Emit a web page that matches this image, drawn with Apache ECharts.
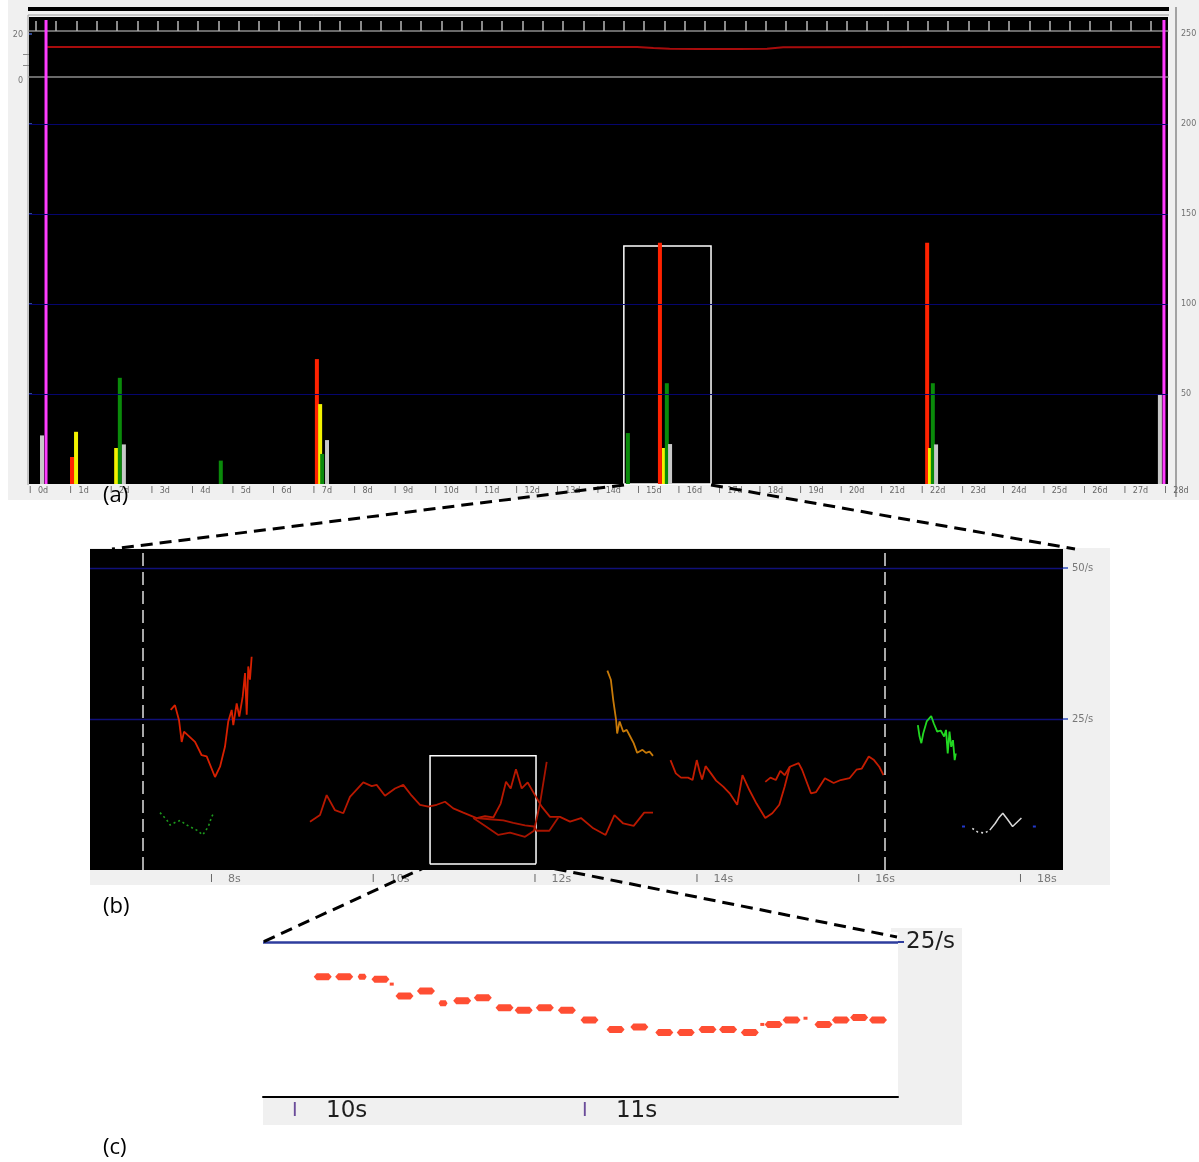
<!DOCTYPE html>
<html>
<head>
<meta charset="utf-8">
<script src="https://cdn.jsdelivr.net/npm/echarts@6/dist/echarts.min.js"></script>
<style>
  html, body { margin: 0; padding: 0; background: #fff; }
  #chart { width: 1199px; height: 1162px; }
</style>
</head>
<body>
<div id="chart"></div>
<script>
// ---------- Panel (a): 28-day overview (x in days) ----------
const aRedBars    = [[1.06, 15], [7.10, 69.4], [15.56, 134], [22.15, 134]];
const aYellowBars = [[1.16, 29], [2.15, 20], [7.18, 44.4], [15.66, 20], [22.22, 20]];
const aGreenBars  = [[2.24, 59], [4.73, 13], [7.23, 16.7], [14.77, 28.3], [15.73, 56], [22.29, 56]];
const aGrayBars   = [[0.32, 27], [2.34, 22], [7.35, 24.4], [15.81, 22.2], [22.37, 22], [27.89, 50]];
const aMarkers    = [0.42, 27.99];
const aGridLevels = [50, 100, 150, 200];
// upper trend trace (0-20 scale)
const aTrend = [[0.45, 13], [5, 13], [10, 13], [15, 13], [15.4, 12.6], [15.8, 12.3], [16.5, 12.2],
                [17.5, 12.2], [18.2, 12.3], [18.6, 12.9], [22, 13], [27.9, 13]];
const aZoomBox = [[14.67, 0], [16.82, 132.2]];

// ---------- Panel (b): seconds view ----------
const bRedLeft = [[7.514,26.5],[7.567,27.3],[7.617,24.8],[7.650,21.2],[7.679,22.9],[7.815,21.2],[7.897,19.0],
  [7.959,18.8],[8.062,15.4],[8.124,17.1],[8.185,20.4],[8.226,24.6],[8.268,26.5],[8.288,24.0],[8.330,27.6],
  [8.362,25.4],[8.404,28.7],[8.433,32.6],[8.454,25.7],[8.473,33.7],[8.494,31.5],[8.515,35.3]];
const bGreenLeft = [[7.382,9.5],[7.465,8.3],[7.506,7.45],[7.588,8.0],[7.630,8.2],[7.712,7.45],[7.836,6.6],
  [7.910,5.8],[7.980,7.2],[8.020,8.8],[8.040,9.3]];
const bRedMain = [[9.236,8.0],[9.360,9.1],[9.442,12.4],[9.545,9.9],[9.648,9.4],[9.730,12.1],[9.895,14.5],
  [9.999,13.9],[10.060,14.1],[10.163,12.3],[10.287,13.5],[10.389,14.1],[10.493,12.3],[10.596,10.8],
  [10.699,10.5],[10.802,10.8],[10.905,11.3],[11.007,10.2],[11.131,9.5],[11.296,8.6],[11.399,8.9],
  [11.502,8.7],[11.593,11.0],[11.659,14.6],[11.717,13.5],[11.782,16.7],[11.853,13.5],[11.927,14.5],
  [12.017,12.4],[12.100,10.5],[12.203,8.8],[12.326,8.8],[12.450,8.0],[12.586,8.6],[12.738,6.9],
  [12.890,5.8],[12.999,9.1],[13.108,7.7],[13.237,7.3],[13.367,9.5],[13.476,9.5]];
const bRedMid = [[11.296,8.6],[11.461,8.4],[11.626,8.2],[11.749,7.8],[11.894,7.4],[12.005,7.2],[12.038,6.5],
  [12.194,6.5],[12.305,8.7]];
const bRedLow = [[11.255,8.6],[11.420,7.1],[11.564,5.8],[11.708,6.2],[11.894,5.5],[12.005,6.5],[12.079,11.0],
  [12.162,17.9]];
const bOrange = [[12.912,33.0],[12.955,31.5],[12.985,28.1],[13.020,24.8],[13.033,22.6],[13.063,24.6],
  [13.085,24.8],[13.108,22.9],[13.151,23.2],[13.194,22.1],[13.237,21.0],[13.281,19.4],[13.346,19.9],
  [13.389,19.4],[13.433,19.6],[13.476,18.9]];
const bRedRight = [[13.692,18.2],[13.758,16.0],[13.822,15.3],[13.910,15.3],[13.965,14.9],[14.017,18.2],
  [14.052,16.3],[14.083,15.0],[14.126,17.2],[14.192,16.0],[14.256,14.8],[14.344,13.8],[14.430,12.6],
  [14.517,10.8],[14.582,15.7],[14.669,13.2],[14.755,11.0],[14.864,8.6],[14.951,9.4],[15.037,10.8],
  [15.103,13.8],[15.167,17.1],[15.276,17.7],[15.319,16.6],[15.428,12.7],[15.492,12.9],[15.601,15.2],
  [15.709,14.4],[15.796,14.9],[15.905,15.2],[15.991,16.6],[16.057,16.8],[16.143,18.8],[16.208,18.2],
  [16.273,17.1],[16.325,15.7]];
const bRedBranch = [[14.864,14.6],[14.928,15.3],[14.994,14.9],[15.050,16.4],[15.103,15.7],[15.167,17.1]];
const bGreenRight = [[16.750,24.0],[16.771,22.1],[16.793,21.0],[16.816,22.6],[16.859,24.6],[16.915,25.5],
  [16.946,24.3],[16.989,22.9],[17.032,23.1],[17.075,22.1],[17.098,23.2],[17.119,19.3],[17.141,22.9],
  [17.162,20.4],[17.184,21.5],[17.205,18.2],[17.219,19.3]];
const bWhiteDotted = [[17.423,6.9],[17.487,6.3],[17.575,6.1],[17.639,6.6]];
const bWhiteSolid  = [[17.639,6.6],[17.705,7.7],[17.748,8.6],[17.800,9.4],[17.857,8.4],[17.921,7.2],[18.030,8.6]];
const bBlueDots    = [[17.314,7.2],[18.190,7.2]];
const bMarkers     = [7.17, 16.34];
const bTicks       = [8, 10, 12, 14, 16, 18];
const bZoomBox     = [[10.72, 1.0], [12.03, 18.9]];

// ---------- Panel (c): detail ----------
const cDashes = [[10.106,19.4],[10.180,19.4],[10.305,19.0],[10.388,16.3],[10.462,17.1],[10.587,15.5],
  [10.658,16.0],[10.733,14.4],[10.799,14.0],[10.872,14.4],[10.948,14.0],[11.026,12.4],[11.116,10.9],
  [11.198,11.3],[11.284,10.4],[11.358,10.4],[11.433,10.9],[11.504,10.9],[11.579,10.4],[11.661,11.7],
  [11.723,12.4],[11.833,11.7],[11.893,12.4],[11.956,12.8],[12.021,12.4]];
const cShort = [[10.242,19.4],[10.521,15.1]];
const cTiny  = [[10.344,18.2],[11.622,11.7],[11.771,12.7]];
const cTicks = [10, 11];

// strip of half-day marks above the overview
const stripTicks = [];
for (let k = 0; k < 56; k++) stripTicks.push(+(0.17 + 0.5 * k).toFixed(2));

const FONT = 'DejaVu Sans';
const chart = echarts.init(document.getElementById('chart'), null, { renderer: 'canvas' });

function barRender(color) {
  return function (params, api) {
    const x = api.value(0), y = api.value(1);
    const base = api.coord([x, 0]);
    const top = api.coord([x, y]);
    return { type: 'rect', shape: { x: base[0] - 2, y: top[1], width: 4, height: base[1] - top[1] },
             style: { fill: color } };
  };
}
function markerRender(params, api) {
  const x = api.value(0);
  const b = api.coord([x, 0]);
  const t = api.coord([x, 1]);
  return { type: 'rect', shape: { x: b[0] - 1.5, y: t[1], width: 3, height: b[1] - t[1] },
           style: { fill: '#ff3cff' } };
}
function bLine(data, color, extra) {
  return Object.assign({
    type: 'line', xAxisIndex: 4, yAxisIndex: 4, data: data, showSymbol: false, silent: true,
    lineStyle: { color: color, width: 1.8 }, z: 3
  }, extra || {});
}
const gridBase = { containLabel: false, outerBoundsMode: 'none', borderWidth: 0 };

const option = {
  animation: false,
  backgroundColor: '#ffffff',
  grid: [
    Object.assign({ left: 29, top: 17, width: 1139, height: 14, show: true, backgroundColor: '#000' }, gridBase),
    Object.assign({ left: 29, top: 31, width: 1139, height: 453, show: true, backgroundColor: '#000' }, gridBase),
    Object.assign({ left: 29, top: 31, width: 1139, height: 46 }, gridBase),
    Object.assign({ left: 29, top: 20, width: 1139, height: 464 }, gridBase),
    Object.assign({ left: 90, top: 549, width: 973, height: 321, show: true, backgroundColor: '#000' }, gridBase),
    Object.assign({ left: 263, top: 932, width: 635, height: 165, show: true, backgroundColor: '#fff' }, gridBase)
  ],
  xAxis: [
    { gridIndex: 0, type: 'value', min: 0, max: 28.09,
      axisLine: { show: true, lineStyle: { color: '#8c8c8c', width: 1.5 } },
      axisTick: { show: true, inside: true, length: 10, customValues: stripTicks,
                  lineStyle: { color: '#b8b8b8', width: 1.5 } },
      axisLabel: { show: false }, splitLine: { show: false } },
    { gridIndex: 1, type: 'value', min: 0, max: 28.09, interval: 1,
      axisLine: { show: false }, axisTick: { show: false }, splitLine: { show: false },
      axisLabel: { show: true, interval: 0, showMaxLabel: false, hideOverlap: false, margin: 3, align: 'left',
        fontFamily: FONT, fontSize: 8, color: '#666',
        formatter: v => '{t|I}{v|' + v + 'd}',
        rich: { t: { width: 9, fontSize: 8, color: '#555', fontFamily: FONT },
                v: { fontSize: 8, color: '#666', fontFamily: FONT } } } },
    { gridIndex: 2, type: 'value', min: 0, max: 28.09,
      axisLine: { show: true, lineStyle: { color: '#8c8c8c', width: 1.5 } },
      axisTick: { show: false }, axisLabel: { show: false }, splitLine: { show: false } },
    { gridIndex: 3, type: 'value', min: 0, max: 28.09, show: false },
    { gridIndex: 4, type: 'value', min: 6.5167, max: 18.544,
      axisLine: { show: false }, axisTick: { show: false }, splitLine: { show: false },
      axisLabel: { show: true, customValues: bTicks, margin: 4, align: 'left', hideOverlap: false,
        formatter: v => '{t|I}{v|' + v + 's}',
        rich: { t: { width: 18, fontSize: 10, color: '#666', fontFamily: FONT },
                v: { fontSize: 11, color: '#777', fontFamily: FONT } } } },
    { gridIndex: 5, type: 'value', min: 9.9, max: 12.09,
      axisLine: { show: true, lineStyle: { color: '#000', width: 2 } },
      axisTick: { show: false }, splitLine: { show: false },
      axisLabel: { show: true, customValues: cTicks, margin: 3, align: 'left', hideOverlap: false,
        formatter: v => '{t|I}{v|' + v + 's}',
        rich: { t: { width: 34, fontSize: 19, color: '#6b4c9a', fontFamily: FONT },
                v: { fontSize: 23, color: '#1e1e1e', fontFamily: FONT } } } }
  ],
  yAxis: [
    { gridIndex: 0, type: 'value', min: 0, max: 1, show: false },
    { gridIndex: 1, type: 'value', min: 0, max: 251.7, interval: 50, position: 'right', offset: 8,
      axisLine: { show: false },
      axisTick: { show: true, length: 3, lineStyle: { color: '#4060c0', width: 1.5 } },
      axisLabel: { show: true, showMinLabel: false, showMaxLabel: false, margin: 5,
                   fontFamily: FONT, fontSize: 8, color: '#707070' },
      splitLine: { show: false } },
    { gridIndex: 2, type: 'value', min: 0, max: 20, position: 'left', offset: 5,
      axisLine: { show: false },
      axisTick: { show: true, length: 6, customValues: [5, 10], lineStyle: { color: '#888', width: 1 } },
      axisLabel: { show: true, customValues: [0, 20], margin: 1, verticalAlign: 'top',
                   fontFamily: FONT, fontSize: 8, color: '#707070' },
      splitLine: { show: false } },
    { gridIndex: 3, type: 'value', min: 0, max: 1, show: false },
    { gridIndex: 4, type: 'value', min: 0, max: 53.15, interval: 25, position: 'right',
      axisLine: { show: false },
      axisTick: { show: true, length: 5, lineStyle: { color: '#3050c0', width: 1.5 } },
      axisLabel: { show: true, showMinLabel: false, showMaxLabel: false, margin: 9,
                   formatter: v => v + '/s', fontFamily: FONT, fontSize: 10, color: '#777' },
      splitLine: { show: true, showMinLine: false, showMaxLine: false,
                   lineStyle: { color: '#10107a', width: 1.3 } } },
    { gridIndex: 5, type: 'value', min: 0, max: 26.6, interval: 25, position: 'right',
      axisLine: { show: false },
      axisTick: { show: true, length: 6, lineStyle: { color: '#2e3d9e', width: 2 } },
      axisLabel: { show: true, showMinLabel: false, showMaxLabel: false, margin: 8,
                   formatter: v => v + '/s', fontFamily: FONT, fontSize: 23, color: '#1e1e1e' },
      splitLine: { show: true, showMinLine: false, showMaxLine: false,
                   lineStyle: { color: '#2e3d9e', width: 2.5 } } }
  ],
  series: [
    // panel (a): level lines and zoom box
    { type: 'line', xAxisIndex: 1, yAxisIndex: 1, data: [], silent: true, z: 2,
      markLine: { silent: true, symbol: ['none', 'none'], label: { show: false },
                  lineStyle: { color: '#05056e', width: 1.2, type: 'solid' },
                  data: aGridLevels.map(v => ({ yAxis: v })) } },
    { type: 'custom', xAxisIndex: 1, yAxisIndex: 1, data: aRedBars, renderItem: barRender('#ff2200'), silent: true, z: 3 },
    { type: 'custom', xAxisIndex: 1, yAxisIndex: 1, data: aYellowBars, renderItem: barRender('#f2f200'), silent: true, z: 3 },
    { type: 'custom', xAxisIndex: 1, yAxisIndex: 1, data: aGreenBars, renderItem: barRender('#0a8a0a'), silent: true, z: 3 },
    { type: 'custom', xAxisIndex: 1, yAxisIndex: 1, data: aGrayBars, renderItem: barRender('#c8c8c8'), silent: true, z: 3 },
    { type: 'line', xAxisIndex: 2, yAxisIndex: 2, data: aTrend, showSymbol: false, silent: true,
      lineStyle: { color: '#a80c0c', width: 2 }, z: 3 },
    { type: 'custom', xAxisIndex: 3, yAxisIndex: 3, data: aMarkers.map(x => [x, 1]), renderItem: markerRender, silent: true, z: 4 },
    { type: 'line', xAxisIndex: 1, yAxisIndex: 1, data: [], silent: true, z: 5,
      markArea: { silent: true, itemStyle: { color: 'rgba(0,0,0,0)', borderColor: '#ffffff', borderWidth: 1.5 },
                  data: [[{ coord: aZoomBox[0] }, { coord: aZoomBox[1] }]] } },
    // panel (b)
    bLine([], '#000', {
      markLine: { silent: true, symbol: ['none', 'none'], label: { show: false },
                  lineStyle: { color: '#a8a8a8', width: 2, type: [13, 6] },
                  data: bMarkers.map(x => ({ xAxis: x })) },
      markArea: { silent: true, itemStyle: { color: 'rgba(0,0,0,0)', borderColor: '#ffffff', borderWidth: 1.5 },
                  data: [[{ coord: bZoomBox[0] }, { coord: bZoomBox[1] }]] } }),
    bLine(bRedLeft, '#d82000'),
    bLine(bGreenLeft, '#1c9a1c', { lineStyle: { color: '#1c9a1c', width: 1.6, type: [2, 3] } }),
    bLine(bRedMain, '#b81800'),
    bLine(bRedMid, '#a81400'),
    bLine(bRedLow, '#a81400'),
    bLine(bOrange, '#c87a08'),
    bLine(bRedRight, '#c41c00'),
    bLine(bRedBranch, '#c41c00'),
    bLine(bGreenRight, '#22d822'),
    bLine(bWhiteDotted, '#d8d8d8', { lineStyle: { color: '#d8d8d8', width: 1.6, type: [2, 3] } }),
    bLine(bWhiteSolid, '#d8d8d8', { lineStyle: { color: '#d8d8d8', width: 1.5 } }),
    { type: 'scatter', xAxisIndex: 4, yAxisIndex: 4, data: bBlueDots, symbol: 'rect', symbolSize: [3, 2],
      itemStyle: { color: '#2a46ff' }, silent: true, z: 3 },
    // panel (c)
    { type: 'scatter', xAxisIndex: 5, yAxisIndex: 5, data: cDashes, silent: true, z: 3,
      symbol: 'path://M0,3 L3,0 L15,0 L18,3 L15,6 L3,6 Z', symbolSize: [18, 7], itemStyle: { color: '#ff2200' } },
    { type: 'scatter', xAxisIndex: 5, yAxisIndex: 5, data: cShort, silent: true, z: 3,
      symbol: 'path://M0,3 L2,0 L8,0 L10,3 L8,6 L2,6 Z', symbolSize: [9, 6], itemStyle: { color: '#ff2200' } },
    { type: 'scatter', xAxisIndex: 5, yAxisIndex: 5, data: cTiny, silent: true, z: 3,
      symbol: 'rect', symbolSize: [4, 3], itemStyle: { color: '#ff2200' } }
  ],
  graphic: [
    // panel (a) frame
    { type: 'rect', z: -10, shape: { x: 8, y: 0, width: 1191, height: 500 }, style: { fill: '#f0f0f0' } },
    { type: 'rect', z: -5, shape: { x: 28, y: 7, width: 1141, height: 4 }, style: { fill: '#000' } },
    { type: 'line', z: -5, shape: { x1: 28, y1: 15, x2: 1169, y2: 15 }, style: { stroke: '#9a9a9a', lineWidth: 1 } },
    { type: 'line', z: -5, shape: { x1: 28, y1: 15, x2: 28, y2: 485 }, style: { stroke: '#9a9a9a', lineWidth: 1 } },
    { type: 'line', z: -5, shape: { x1: 1176, y1: 7, x2: 1176, y2: 497 }, style: { stroke: '#8a8a8a', lineWidth: 1.5 } },
    // panel (b) frame
    { type: 'rect', z: -10, shape: { x: 90, y: 548, width: 1020, height: 337 }, style: { fill: '#f0f0f0' } },
    // panel (c) frame
    { type: 'rect', z: -10, shape: { x: 891, y: 928, width: 71, height: 197 }, style: { fill: '#f0f0f0' } },
    { type: 'rect', z: -10, shape: { x: 263, y: 1097, width: 699, height: 28 }, style: { fill: '#f0f0f0' } },
    // connectors between panels
    { type: 'line', z: 100, shape: { x1: 624, y1: 485, x2: 112, y2: 549 },
      style: { stroke: '#000', lineWidth: 3, lineDash: [12, 7] } },
    { type: 'line', z: 100, shape: { x1: 711, y1: 485, x2: 1075, y2: 549 },
      style: { stroke: '#000', lineWidth: 3, lineDash: [12, 7] } },
    { type: 'line', z: 100, shape: { x1: 430, y1: 865, x2: 263, y2: 942 },
      style: { stroke: '#000', lineWidth: 3, lineDash: [12, 7] } },
    { type: 'line', z: 100, shape: { x1: 536, y1: 865, x2: 897, y2: 937 },
      style: { stroke: '#000', lineWidth: 3, lineDash: [12, 7] } },
    // panel letters
    { type: 'text', z: 100, left: 103, top: 485, style: { text: '(a)', fill: '#000', font: '22px "Open Sans"' } },
    { type: 'text', z: 100, left: 103, top: 896, style: { text: '(b)', fill: '#000', font: '22px "Open Sans"' } },
    { type: 'text', z: 100, left: 103, top: 1137, style: { text: '(c)', fill: '#000', font: '22px "Open Sans"' } }
  ]
};
chart.setOption(option);
</script>
</body>
</html>
